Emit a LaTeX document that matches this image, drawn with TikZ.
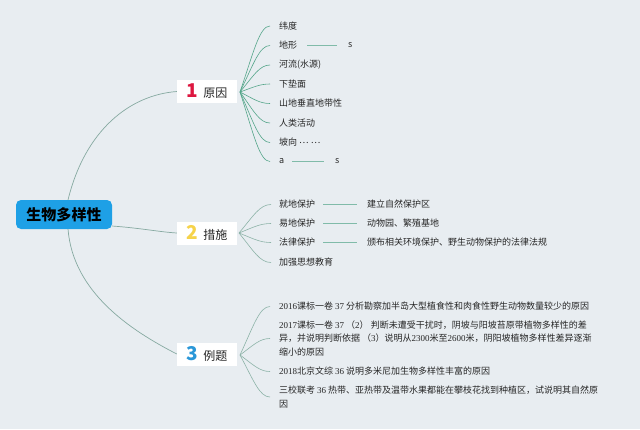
\documentclass[tikz,border=0pt]{standalone}
\usepackage{fontspec}
\setmainfont{Noto Sans CJK SC}
\newfontfamily\lat{Liberation Serif}
\usetikzlibrary{calc}
\definecolor{bg}{HTML}{E8EDF1}
\definecolor{mainln}{HTML}{86A9A1}
\definecolor{br1}{HTML}{55A68A}
\definecolor{br2}{HTML}{8DB3A8}
\definecolor{dashln}{HTML}{80BBA9}
\definecolor{ctrblue}{HTML}{1EA0E6}
\definecolor{numred}{HTML}{DD1740}
\definecolor{numyel}{HTML}{F6D34A}
\definecolor{numblue}{HTML}{2A97D8}
\definecolor{txt}{HTML}{262626}
\tikzset{
  x=1pt, y=-1pt,
  topic/.style={fill=white, minimum width=60pt, minimum height=23pt, inner sep=0pt, text=txt, font=\fontsize{12}{14}\selectfont},
  leaf/.style={anchor=west, inner sep=0pt, text=txt, font=\fontsize{9}{13.5}\selectfont, align=left},
  mainline/.style={draw=mainln, line width=0.7pt},
  fan/.style={line width=0.6pt, to path={let \p1=(\tikztostart), \p2=(\tikztotarget) in
     .. controls ({\x1+0.45*(\x2-\x1)},{\y1+0.6*(\y2-\y1)}) and ({\x2-0.35*(\x2-\x1)},\y2) .. (\tikztotarget)}},
  rule/.style={draw=dashln, line width=0.8pt},
}
\newcommand{\bignum}[2]{{\fontsize{19}{19}\selectfont\bfseries\color{#1}#2}\hspace{5pt}}
\begin{document}
\begin{tikzpicture}
\useasboundingbox[fill=bg] (0,0) rectangle (640,429);

% center
\node[fill=ctrblue, rounded corners=5pt, minimum width=96pt, minimum height=29pt, inner sep=0pt,
      font=\fontsize{15}{17}\selectfont\bfseries, text=black] (ctr) at (64,214.5) {生物多样性};

% topics
\node[topic] (t1) at (207,91.5) {\bignum{numred}{1}原因};
\node[topic] (t2) at (207,233) {\bignum{numyel}{2}措施};
\node[topic] (t3) at (207,354) {\bignum{numblue}{3}例题};

% main connectors
\coordinate (c1) at (68,200);
\coordinate (c2) at (112,226);
\coordinate (c3) at (68,229);
\draw[mainline] (c1) .. controls (85,130) and (130,95) .. (t1.west);
\draw[mainline] (c2) .. controls (140,228) and (160,232) .. (t2.west);
\draw[mainline] (c3) .. controls (73,292) and (130,330) .. (t3.west);

% topic 1 leaves
\node[leaf] (a1) at (279,26) {纬度};
\node[leaf] (a2) at (279,45.5) {地形};
\node[leaf] (a3) at (279,65) {河流(水源)};
\node[leaf] (a4) at (279,84) {下垫面};
\node[leaf] (a5) at (279,103.5) {山地垂直地带性};
\node[leaf] (a6) at (279,123) {人类活动};
\node[leaf] (a7) at (279,142.5) {坡向 \raisebox{2.6pt}{… …}};
\node[leaf] (a8) at (279,161.5) {a};
\node[leaf] (s1) at (348,45.5) {s};
\node[leaf] (s2) at (335,161.5) {s};
\draw[rule] ([xshift=10pt]a2.east) -- ([xshift=-11pt]s1.west);
\draw[rule] ([xshift=8pt]a8.east) -- ([xshift=-11pt]s2.west);

\coordinate (f1) at (240,92);
\foreach \n in {a1,a2,a3,a4,a5,a6,a7,a8}
  \draw[br1, fan] (f1) to ([xshift=-9pt]\n.west);

% topic 2 leaves
\node[leaf] (b1) at (279,204.5) {就地保护};
\node[leaf] (b2) at (279,223.5) {易地保护};
\node[leaf] (b3) at (279,242.5) {法律保护};
\node[leaf] (b4) at (279,262.5) {加强思想教育};
\node[leaf] (d1) at (367,204.5) {建立自然保护区};
\node[leaf] (d2) at (367,223.5) {动物园、繁殖基地};
\node[leaf] (d3) at (367,242.5) {颁布相关环境保护、野生动物保护的法律法规};
\draw[rule] ([xshift=8pt]b1.east) -- ([xshift=-10pt]d1.west);
\draw[rule] ([xshift=8pt]b2.east) -- ([xshift=-10pt]d2.west);
\draw[rule] ([xshift=8pt]b3.east) -- ([xshift=-10pt]d3.west);

\coordinate (f2) at (239,233);
\foreach \n in {b1,b2,b3,b4}
  \draw[br2, fan] (f2) to ([xshift=-8pt]\n.west);

% topic 3 leaves
\node[leaf] (e1) at (279,306.5) {{\lat 2016}课标一卷 {\lat 37} 分析勘察加半岛大型植食性和肉食性野生动物数量较少的原因};
\node[leaf] (e2) at (279,338.5) {{\lat 2017}课标一卷 {\lat 37} （{\lat 2}） 判断未遭受干扰时，阴坡与阳坡苔原带植物多样性的差\\异，并说明判断依据 （{\lat 3}）说明从{\lat 2300}米至{\lat 2600}米，阴阳坡植物多样性差异逐渐\\缩小的原因};
\node[leaf] (e3) at (279,371.5) {{\lat 2018}北京文综 {\lat 36} 说明多米尼加生物多样性丰富的原因};
\node[leaf] (e4) at (279,397) {三校联考 {\lat 36} 热带、亚热带及温带水果都能在攀枝花找到种植区，试说明其自然原\\因};

\coordinate (f3) at (240,355);
\foreach \n in {e1,e2,e3,e4}
  \draw[br2, fan] (f3) to ([xshift=-9pt]\n.west);
\end{tikzpicture}
\end{document}
